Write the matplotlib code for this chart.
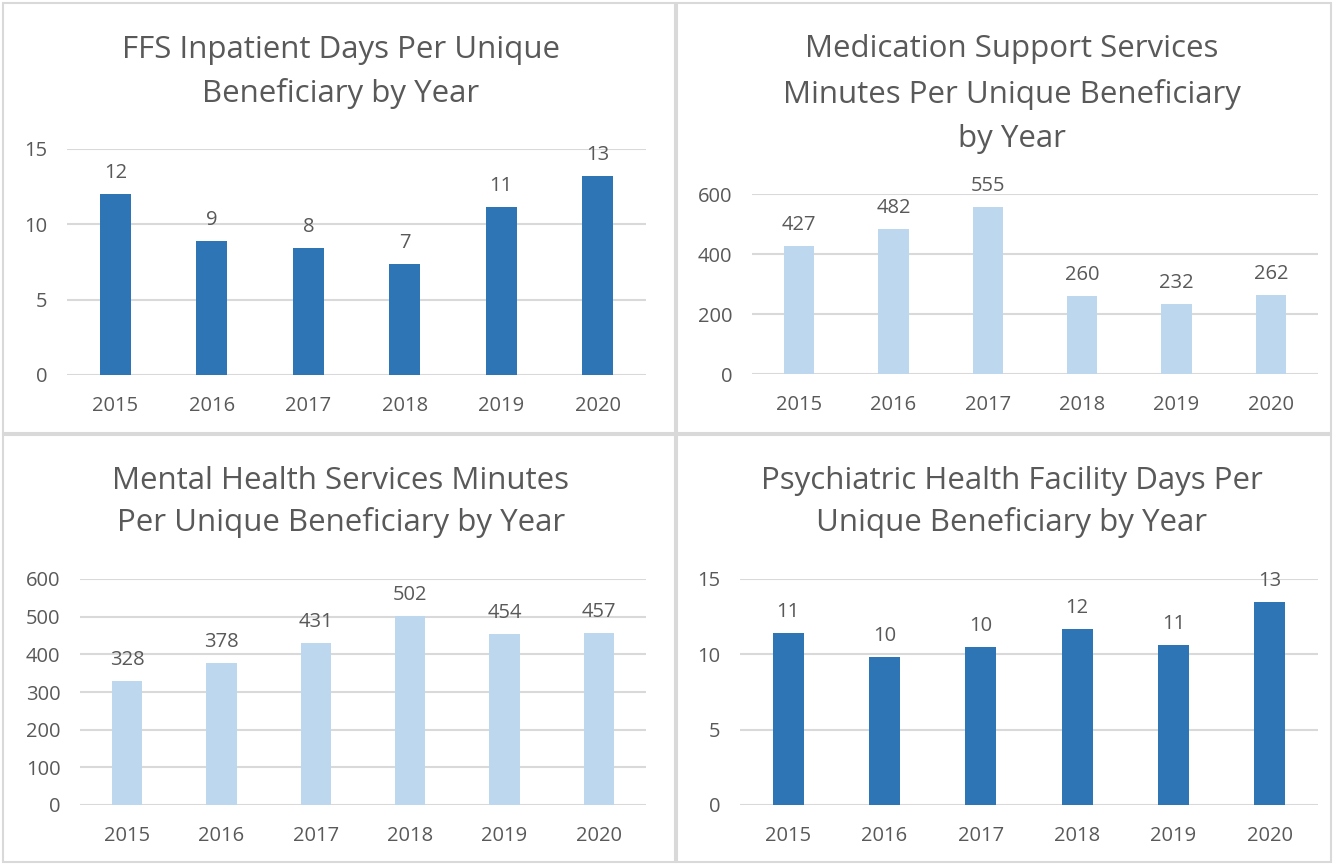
import matplotlib
matplotlib.use("Agg")
import matplotlib.pyplot as plt
from matplotlib.patches import Rectangle

plt.rcParams['font.family'] = ['Open Sans', 'DejaVu Sans']

years = ["2015", "2016", "2017", "2018", "2019", "2020"]

ffs_days = [12.0, 8.87, 8.45, 7.35, 11.17, 13.2]
med_minutes = [427, 482, 555, 260, 232, 262]
mh_minutes = [328, 378, 431, 502, 454, 457]
phf_days = [11.4, 9.84, 10.46, 11.66, 10.62, 13.45]

titles = [
    "FFS Inpatient Days Per Unique\nBeneficiary by Year",
    "Medication Support Services\nMinutes Per Unique Beneficiary\nby Year",
    "Mental Health Services Minutes\nPer Unique Beneficiary by Year",
    "Psychiatric Health Facility Days Per\nUnique Beneficiary by Year",
]

DARK = "#2E75B6"
LIGHT = "#BDD7EE"
TXT = "#595959"
GRID = "#D9D9D9"

W, H = 1333, 865
fig = plt.figure(figsize=(W / 100, H / 100), dpi=100)


def ax_px(x0, y0, x1, y1):
    return fig.add_axes([x0 / W, 1 - y1 / H, (x1 - x0) / W, (y1 - y0) / H])


# panel borders
for (x0, y0, x1, y1) in [(3, 3, 675, 433), (677, 3, 1331, 433),
                         (3, 435, 675, 862), (677, 435, 1331, 862)]:
    fig.patches.append(Rectangle((x0 / W, 1 - y1 / H), (x1 - x0) / W, (y1 - y0) / H,
                                 transform=fig.transFigure, fill=False,
                                 edgecolor=GRID, linewidth=1.5))

panels = [
    dict(vals=ffs_days, color=DARK, box=(67, 149, 646, 375), ymax=15, step=5,
         title=titles[0], tx=341, ty=72, ls=1.55),
    dict(vals=med_minutes, color=LIGHT, box=(752, 194, 1318, 374), ymax=600, step=200,
         title=titles[1], tx=1012, ty=94, ls=1.6),
    dict(vals=mh_minutes, color=LIGHT, box=(80, 579, 646, 805), ymax=600, step=100,
         title=titles[2], tx=341, ty=502, ls=1.5),
    dict(vals=phf_days, color=DARK, box=(740, 579, 1318, 805), ymax=15, step=5,
         title=titles[3], tx=1012, ty=502, ls=1.5),
]

for p in panels:
    ax = ax_px(*p['box'])
    x = list(range(len(years)))
    bars = ax.bar(x, p['vals'], width=0.32, color=p['color'], zorder=3)
    ax.set_xlim(-0.5, len(years) - 0.5)
    ax.set_ylim(0, p['ymax'])
    ticks = list(range(0, p['ymax'] + 1, p['step']))
    ax.set_yticks(ticks)
    ax.set_xticks(x)
    ax.set_xticklabels(years)
    ax.grid(axis='y', color=GRID, linewidth=1.5, zorder=0)
    ax.set_axisbelow(True)
    for s in ax.spines.values():
        s.set_visible(False)
    ax.tick_params(axis='both', length=0, labelsize=14.5, colors=TXT)
    ax.tick_params(axis='x', pad=15)
    ax.tick_params(axis='y', pad=14)
    for b, v in zip(bars, p['vals']):
        ax.annotate(f"{v:.0f}", (b.get_x() + b.get_width() / 2, v),
                    xytext=(0, 8), textcoords='offset points',
                    ha='center', va='bottom', fontsize=14.5, color=TXT)
    fig.text(p['tx'] / W, 1 - p['ty'] / H, p['title'], ha='center', va='center',
             fontsize=22.5, color=TXT, linespacing=p['ls'])

fig.savefig("out.png", dpi=100)
